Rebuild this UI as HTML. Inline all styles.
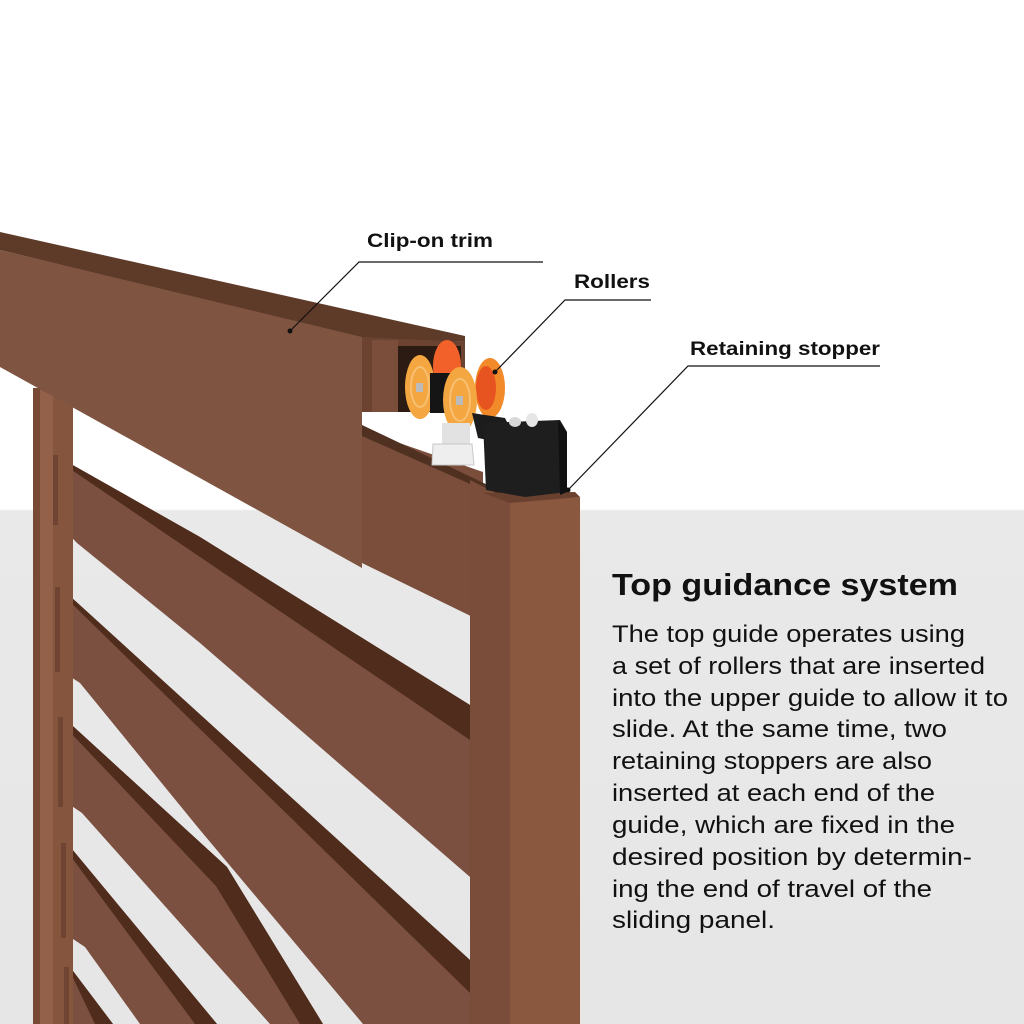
<!DOCTYPE html>
<html><head><meta charset="utf-8">
<style>
html,body{margin:0;padding:0;background:#fff;overflow:hidden;width:1024px;height:1024px;}
svg{display:block;}
text{font-family:"Liberation Sans",sans-serif;fill:#111;}
</style></head>
<body>
<svg width="1024" height="1024" viewBox="0 0 1024 1024" xmlns="http://www.w3.org/2000/svg">
<defs>
<linearGradient id="bg" gradientUnits="userSpaceOnUse" x1="0" y1="0" x2="0" y2="1024">
<stop offset="0" stop-color="#ffffff"/>
<stop offset="0.497" stop-color="#ffffff"/>
<stop offset="0.499" stop-color="#e9e9e9"/>
<stop offset="1" stop-color="#e6e6e6"/>
</linearGradient>
<clipPath id="c"><rect x="0" y="0" width="1024" height="1024"/></clipPath>
</defs>
<g clip-path="url(#c)">
<rect x="0" y="0" width="1024" height="1024" fill="url(#bg)"/>

<!-- right panel upper piece -->
<polygon points="362,430 483,472 483,622 362,563" fill="#7a4e3b"/>
<polygon points="362,425 513,497 513,503 362,436" fill="#4f3021"/>

<!-- slat 1 -->
<polygon points="55,455 200,537 470,705 470,877 200,643 77,543 58,523" fill="#7b5040"/>
<polygon points="55,455 200,537 470,705 470,740 200,557 60,462" fill="#4f2c1c"/>
<!-- slat 2 -->
<polygon points="60,587 470,960 470,1024 363,1024 200,830 80,683 60,670" fill="#7b5040"/>
<polygon points="60,587 470,960 470,993 66,598" fill="#4f2c1c"/>
<!-- slat 3 -->
<polygon points="63,717 227,867 323,1024 270,1024 82,813 63,800" fill="#7b5040"/>
<polygon points="63,717 227,867 323,1024 300,1024 216,886 68,730" fill="#4f2c1c"/>
<!-- slat 4 -->
<polygon points="67,843 217,1024 140,1024 85,947 67,935" fill="#7b5040"/>
<polygon points="67,843 217,1024 195,1024 72,858" fill="#4f2c1c"/>
<!-- slat 5 -->
<polygon points="70,967 113,1024 70,1024" fill="#7b5040"/>
<polygon points="70,967 113,1024 95,1024 74,980" fill="#4f2c1c"/>

<!-- left post -->
<rect x="33" y="388" width="40" height="636" fill="#85553e"/>
<rect x="33" y="388" width="7" height="636" fill="#784a36"/>
<rect x="40" y="388" width="13" height="636" fill="#93604a"/>
<rect x="53" y="455" width="5" height="70" fill="#6f4433"/>
<rect x="55" y="587" width="5" height="85" fill="#6f4433"/>
<rect x="58" y="717" width="5" height="90" fill="#6f4433"/>
<rect x="61" y="843" width="5" height="95" fill="#6f4433"/>
<rect x="64" y="967" width="5" height="57" fill="#6f4433"/>

<!-- right post -->
<polygon points="470,480 510,500 510,1024 470,1024" fill="#7a4d3a"/>
<polygon points="510,500 580,497 580,1024 510,1024" fill="#8a573f"/>
<polygon points="483,493 575,492 580,497 510,503" fill="#6a412f"/>

<!-- top rail -->
<polygon points="0,232 465,336 465,342 362,338 0,250" fill="#5e3a29"/>
<polygon points="0,250 362,337 362,568 0,367" fill="#7f5441"/>
<polygon points="362,337 465,342 465,412 362,412" fill="#6b4330"/>
<rect x="395" y="346" width="66" height="66" fill="#2b1b13"/>
<rect x="372" y="340" width="26" height="72" fill="#7a4e3b"/>

<!-- rollers -->
<ellipse cx="447" cy="366" rx="14" ry="26" fill="#f2612a"/>
<ellipse cx="490" cy="388" rx="15" ry="30" fill="#f28a2a"/>
<ellipse cx="486" cy="388" rx="10" ry="22" fill="#e8541f"/>
<ellipse cx="420" cy="387" rx="15" ry="32" fill="#f4a640"/>
<ellipse cx="420" cy="387" rx="9" ry="20" fill="none" stroke="#f7c070" stroke-width="2"/>
<rect x="416" y="383" width="7" height="9" fill="#bbb"/>
<rect x="430" y="373" width="30" height="40" fill="#151515"/>
<ellipse cx="460" cy="400" rx="17" ry="33" fill="#f4a640"/>
<ellipse cx="460" cy="400" rx="10" ry="21" fill="none" stroke="#f7c070" stroke-width="2"/>
<rect x="456" y="396" width="7" height="9" fill="#bbb"/>

<!-- white post -->
<rect x="442" y="423" width="28" height="30" fill="#e2e2e2"/>
<polygon points="433,444 472,444 474,465 432,465" fill="#eeeeee" stroke="#c8c8c8" stroke-width="1"/>

<!-- stopper -->
<polygon points="472,413 505,418 512,432 488,440 478,438" fill="#1c1c1c"/>
<polygon points="483,423 560,420 567,432 567,492 525,497 486,490" fill="#1e1e1e"/>
<polygon points="558,420 567,432 567,492 560,495" fill="#111"/>
<ellipse cx="515" cy="422" rx="6" ry="5" fill="#d8d8d8"/>
<ellipse cx="532" cy="420" rx="6" ry="7" fill="#e6e6e6"/>

<!-- callouts -->
<g stroke="#111" stroke-width="1.2" fill="none">
<polyline points="290,331 359,262 543,262"/>
<polyline points="495,372 565,300 651,300"/>
<polyline points="568,490 688,366 880,366"/>
</g>
<circle cx="290" cy="331" r="2.5" fill="#111"/>
<circle cx="495" cy="372" r="2.5" fill="#111"/>
<circle cx="568" cy="490" r="2.5" fill="#111"/>

<text x="367" y="247" font-size="19" font-weight="bold" textLength="126" lengthAdjust="spacingAndGlyphs">Clip-on trim</text>
<text x="574" y="288" font-size="19" font-weight="bold" textLength="76" lengthAdjust="spacingAndGlyphs">Rollers</text>
<text x="690" y="355" font-size="19" font-weight="bold" textLength="190" lengthAdjust="spacingAndGlyphs">Retaining stopper</text>

<text x="612" y="595" font-size="31" font-weight="bold" textLength="346" lengthAdjust="spacingAndGlyphs">Top guidance system</text>
<g font-size="24.5">
<text x="612" y="642" textLength="353" lengthAdjust="spacingAndGlyphs">The top guide operates using</text>
<text x="612" y="674" textLength="373" lengthAdjust="spacingAndGlyphs">a set of rollers that are inserted</text>
<text x="612" y="706" textLength="396" lengthAdjust="spacingAndGlyphs">into the upper guide to allow it to</text>
<text x="612" y="737" textLength="335" lengthAdjust="spacingAndGlyphs">slide. At the same time, two</text>
<text x="612" y="769" textLength="320" lengthAdjust="spacingAndGlyphs">retaining stoppers are also</text>
<text x="612" y="801" textLength="323" lengthAdjust="spacingAndGlyphs">inserted at each end of the</text>
<text x="612" y="833" textLength="343" lengthAdjust="spacingAndGlyphs">guide, which are fixed in the</text>
<text x="612" y="865" textLength="360" lengthAdjust="spacingAndGlyphs">desired position by determin-</text>
<text x="612" y="897" textLength="320" lengthAdjust="spacingAndGlyphs">ing the end of travel of the</text>
<text x="612" y="928" textLength="163" lengthAdjust="spacingAndGlyphs">sliding panel.</text>
</g>
</g>
</svg>
</body></html>
